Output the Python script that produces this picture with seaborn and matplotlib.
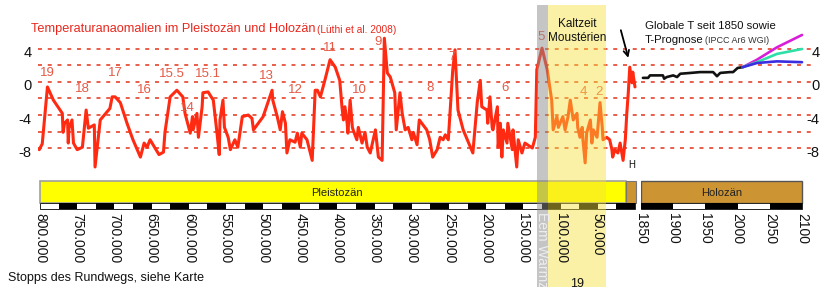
import matplotlib
matplotlib.use("Agg")
import matplotlib.pyplot as plt
from matplotlib.patches import Rectangle
from matplotlib.transforms import ScaledTranslation
import numpy as np
import pandas as pd
import seaborn as sns

# ---------------- data ----------------
age_kyr = [801, 797, 790, 782, 770, 769, 767, 763, 762, 761,
           757, 755, 750, 743, 738, 735, 727, 726, 719, 706,
           703, 699, 692, 683, 675, 665, 660, 656, 652, 640,
           634, 632, 628, 625, 616, 608, 605, 598, 595, 594,
           589, 587, 582, 581, 574, 567, 562, 559, 558, 554,
           552, 547, 544, 540, 538, 534, 528, 520, 515, 513,
           500, 488, 487, 481, 477, 474, 470, 468, 464, 457,
           454, 450, 448, 441, 434, 430, 427, 423, 417, 410,
           403, 397, 394, 392, 390, 387, 386, 383, 380, 379,
           374, 372, 367, 363, 360, 356, 349, 345, 340, 337,
           333, 329, 323, 321, 316, 313, 309, 305, 300, 298,
           293, 290, 280, 276, 272, 266, 262, 258, 255, 251,
           245, 242, 238, 231, 218, 212, 208, 206, 199, 198,
           195, 192, 191, 185, 184, 181, 179, 177, 172, 171,
           165, 164, 159, 157, 152, 148, 138, 134, 132, 125,
           118, 112, 110, 105, 103, 97, 94, 90, 87, 83,
           78, 77, 74, 71, 70, 67, 65, 60, 58, 56,
           51, 47, 44, 43, 38, 34, 31, 30, 27, 23,
           20, 16, 13, 11, 9, 7, 4, 3, 0]
temp_anom = [-8.2, -7.5, -0.6, -2.2, -3.8, -6.1, -5.0, -4.6, -7.4, -5.6,
             -4.6, -7.4, -8.2, -7.9, -3.4, -5.6, -5.2, -10.3, -4.6, -3.2,
             -1.8, -1.8, -2.5, -5.0, -7.0, -9.1, -7.4, -7.9, -7.0, -8.8,
             -8.5, -6.1, -3.6, -1.8, -1.0, -1.8, -3.8, -6.2, -4.2, -5.8,
             -3.8, -6.7, -3.0, -1.3, -1.2, -2.2, -6.2, -8.8, -4.6, -2.2,
             -5.5, -6.7, -8.2, -7.4, -7.0, -7.9, -4.2, -4.0, -4.4, -5.8,
             -4.2, -1.0, -2.2, -4.2, -5.8, -3.6, -5.0, -8.6, -7.0, -7.3,
             -6.2, -7.9, -6.2, -7.0, -9.5, -1.0, -1.0, -1.8, 0.2, 2.7,
             1.8, 0.2, -3.0, -4.6, -3.0, -5.0, -6.2, -2.2, -5.5, -5.8,
             -7.0, -5.5, -7.4, -6.1, -7.9, -8.6, -5.8, -9.1, -9.5, 5.3,
             1.1, 0.6, -1.3, -5.8, -1.3, -3.8, -5.8, -5.5, -7.0, -6.1,
             -7.6, -4.6, -5.8, -7.0, -9.1, -8.2, -6.7, -7.0, -6.4, -7.0,
             1.5, 3.9, -3.4, -5.8, -8.6, -2.4, 0.2, -3.0, -3.4, -5.0,
             -1.8, -5.5, -5.8, -3.0, -7.9, -5.0, -9.1, -5.8, -7.4, -5.0,
             -8.2, -5.8, -10.3, -7.0, -8.6, -7.4, -8.0, -6.7, 1.5, 4.1,
             1.5, -2.2, -5.8, -4.2, -5.5, -4.2, -5.8, -4.2, -2.2, -4.6,
             -3.8, -5.5, -6.7, -5.5, -7.0, -9.8, -6.2, -4.6, -7.4, -5.8,
             -6.7, -2.5, -5.5, -7.0, -6.7, -7.0, -8.2, -9.1, -8.2, -8.6,
             -7.4, -9.5, -7.0, -3.8, -1.3, 1.8, -0.1, 1.2, -0.6]

modern_year = [1853, 1861, 1864, 1884, 1886, 1890, 1900, 1906, 1911,
               1927, 1942, 1962, 1968, 1973, 1988, 1993, 2000, 2008]
modern_temp = [0.5, 0.5, 0.8, 0.8, 0.4, 0.6, 0.8, 0.6, 1.0,
               1.1, 1.2, 1.2, 0.7, 1.1, 1.2, 1.2, 1.7, 1.8]

proj_year = [2008, 2030, 2061, 2100]
proj_high = [1.8, 2.7, 4.2, 5.7]
proj_mid = [1.8, 2.4, 3.4, 4.0]
proj_low = [1.8, 2.3, 2.5, 2.4]

stage_labels = ["19", "18", "17", "16", "15.5", "14", "15.1", "13", "12",
                "11", "10", "9", "8", "7", "6", "5", "4", "2"]
stage_age = [790, 743, 699, 659, 622, 602, 574, 495, 456,
             410, 370, 345, 276, 246, 175, 126, 69, 48]
stage_temp = [1.1, -0.85, 1.1, -1.0, 1.0, -3.2, 1.0, 0.7, -1.0,
              4.1, -1.0, 4.8, -0.7, 3.0, -0.7, 5.5, -1.2, -1.2]

age_ticks = [800, 750, 700, 650, 600, 550, 500, 450, 400, 350,
             300, 250, 200, 150, 100, 50]
year_ticks = [1850, 1900, 1950, 2000, 2050, 2100]
y_ticks = [4, 0, -4, -8]
grid_levels = [4, 2, 0, -2, -4, -6, -8]

eem = (132, 117)          # kyr
moustier = (117, 39)      # kyr
pleistocene = (800, 11.7)
holocene_past = (11.7, -1.0)
holocene = (1850, 2100)

# ---------------- style ----------------
sns.set_theme(style="white")
plt.rcParams['font.family'] = ['Liberation Sans', 'DejaVu Sans']

W, H = 821, 287
fig = plt.figure(figsize=(W / 100, H / 100), dpi=100)

def fx(x):
    return x / W

def fy(y):
    return 1 - y / H

ylo, yhi = -15.39, 9.33
ax1 = fig.add_axes([fx(38), fy(209), (641 - 38) / W, (209 - 5) / H])
ax2 = fig.add_axes([fx(641), fy(209), (812 - 641) / W, (209 - 5) / H])
for ax in (ax1, ax2):
    ax.set_ylim(ylo, yhi)
    ax.set_facecolor("none")
    for s in ax.spines.values():
        s.set_visible(False)
ax1.set_xlim(802.7, -8.1)
ax2.set_xlim(1850, 2115.5)

grid_color = "#e8503c"
for ax in (ax1, ax2):
    for g in grid_levels:
        ax.axhline(g, color=grid_color, lw=1.3, ls=(0, (2.2, 3.2)), zorder=1)

# paleo curve
paleo = pd.DataFrame({"age": age_kyr, "temp": temp_anom})
sns.lineplot(data=paleo, x="age", y="temp", ax=ax1, color="#ff2a12",
             lw=2.2, sort=False, estimator=None, zorder=1.3)

# modern + projections
mod = pd.concat([
    pd.DataFrame({"year": modern_year, "temp": modern_temp, "s": "obs"}),
    pd.DataFrame({"year": proj_year, "temp": proj_high, "s": "high"}),
    pd.DataFrame({"year": proj_year, "temp": proj_mid, "s": "mid"}),
    pd.DataFrame({"year": proj_year, "temp": proj_low, "s": "low"}),
])
pal = {"obs": "#111111", "high": "#d81ed8", "mid": "#2ee0a8", "low": "#3a2ee0"}
sns.lineplot(data=mod, x="year", y="temp", hue="s", palette=pal, ax=ax2,
             lw=1.9, sort=False, estimator=None, legend=False, zorder=2)
ax1.set_xlabel(""); ax1.set_ylabel("")
ax2.set_xlabel(""); ax2.set_ylabel("")

# stage labels
for lab, a, t in zip(stage_labels, stage_age, stage_temp):
    ax1.text(a, t, lab, color="#e65a46", fontsize=9.5, ha="center",
             va="center", zorder=1.5)

# bars
ax1.add_patch(Rectangle((pleistocene[1], -14.7), pleistocene[0] - pleistocene[1], 2.7,
                        facecolor="#ffff00", edgecolor="#a0a0a0", lw=1.2, zorder=1.1))
ax1.text((pleistocene[0] + pleistocene[1]) / 2 - 5, -13.4, "Pleistozän", fontsize=8,
         ha="center", va="center", color="#222222", zorder=1.2)
ax1.add_patch(Rectangle((holocene_past[1], -14.7), holocene_past[0] - holocene_past[1], 2.7,
                        facecolor="#cc9433", edgecolor="#777777", lw=0.8, zorder=1.1))
ax2.add_patch(Rectangle((holocene[0], -14.7), holocene[1] - holocene[0], 2.7,
                        facecolor="#cc9433", edgecolor="#555555", lw=1.0, zorder=1.1))
ax2.text(1975, -13.4, "Holozän", fontsize=8, ha="center", va="center",
         color="#222222", zorder=1.2)

# scale strips
for i, start in enumerate(range(800, 0, -25)):
    col = "white" if i % 2 == 0 else "black"
    ax1.add_patch(Rectangle((start - 25, -15.39), 25, 0.69, facecolor=col,
                            edgecolor="none", zorder=1.1, clip_on=False))
ax1.add_patch(Rectangle((0, -15.39), 800, 0.69, facecolor="none",
                        edgecolor="black", lw=0.6, zorder=1.15, clip_on=False))
for i, start in enumerate(range(1850, 2100, 50)):
    col = "black" if i % 2 == 0 else "white"
    ax2.add_patch(Rectangle((start, -15.39), 50, 0.69, facecolor=col,
                            edgecolor="none", zorder=1.1, clip_on=False))
ax2.add_patch(Rectangle((1850, -15.39), 250, 0.69, facecolor="none",
                        edgecolor="black", lw=0.6, zorder=1.15, clip_on=False))

# bands (drawn over the curve, under tick labels)
bot = -(287 - 209) / (209 - 5)
ax1.axvspan(eem[1], eem[0], ymin=bot - 0.01, ymax=1, color="#8c8c8c", alpha=0.5,
            lw=0, zorder=2, clip_on=False)
ax1.axvspan(moustier[1], moustier[0], ymin=bot - 0.01, ymax=1, color="#f5e03c",
            alpha=0.45, lw=0, zorder=2, clip_on=False)

# ticks
ax1.set_xticks(age_ticks)
ax1.set_xticklabels([f"{a}.000" for a in age_ticks], rotation=-90)
ax2.set_xticks(year_ticks)
ax2.set_xticklabels([str(y) for y in year_ticks], rotation=-90)
for ax in (ax1, ax2):
    ax.tick_params(axis="x", length=0, pad=3, labelsize=10, labelcolor="#111111")
    ax.xaxis.set_zorder(5)
    ax.yaxis.set_zorder(5)

ax1.set_yticks(y_ticks)
ax1.set_yticklabels([str(v) for v in y_ticks])
ax1.tick_params(axis="y", length=0, pad=4.5, labelsize=10.5, labelcolor="#111111")
ax2.yaxis.tick_right()
ax2.set_yticks(y_ticks)
ax2.set_yticklabels([str(v) for v in y_ticks])
ax2.tick_params(axis="y", length=0, pad=5.6, labelsize=10.5, labelcolor="#111111",
                labelright=True, labelleft=False)

off = ScaledTranslation(0, -0.03, fig.dpi_scale_trans)
for lab in ax1.get_yticklabels():
    lab.set_transform(lab.get_transform() + off)
for lab in ax2.get_yticklabels():
    lab.set_horizontalalignment("right")
    lab.set_transform(lab.get_transform() + off)

# arrow and H
ax1.annotate("", xy=(8, 2.6), xytext=(20, 6.6),
             arrowprops=dict(arrowstyle="->", color="black", lw=1.3,
                             mutation_scale=10), zorder=6)
fig.text(fx(632), fy(165), "H", fontsize=7, ha="center", va="center", color="#111111")

# texts
fig.text(fx(31), fy(29), "Temperaturanaomalien im Pleistozän und Holozän",
         color="#e8281e", fontsize=9.2, ha="left", va="center")
fig.text(fx(317), fy(30), "(Lüthi et al. 2008)", color="#e8281e", fontsize=7.3,
         ha="left", va="center")
fig.text(fx(577), fy(24), "Kaltzeit", fontsize=8.5, ha="center", va="center", color="#111111")
fig.text(fx(577), fy(38), "Moustérien", fontsize=8.5, ha="center", va="center", color="#111111")
fig.text(fx(645), fy(26), "Globale T seit 1850 sowie", fontsize=8.2, ha="left",
         va="center", color="#111111")
fig.text(fx(645), fy(40), "T-Prognose", fontsize=8.2, ha="left", va="center", color="#111111")
fig.text(fx(705), fy(41), "(IPCC Ar6 WGI)", fontsize=6.5, ha="left", va="center", color="#333333")
fig.text(fx(542), fy(212), "Eem Warmzeit", fontsize=10, rotation=-90, ha="center",
         va="top", color="#eeeeee")
fig.text(fx(8), fy(278), "Stopps des Rundwegs, siehe Karte", fontsize=9, ha="left",
         va="center", color="#111111")
fig.text(fx(577), fy(284), "19", fontsize=9, ha="center", va="center", color="#111111")

fig.savefig("out.png", dpi=100)
